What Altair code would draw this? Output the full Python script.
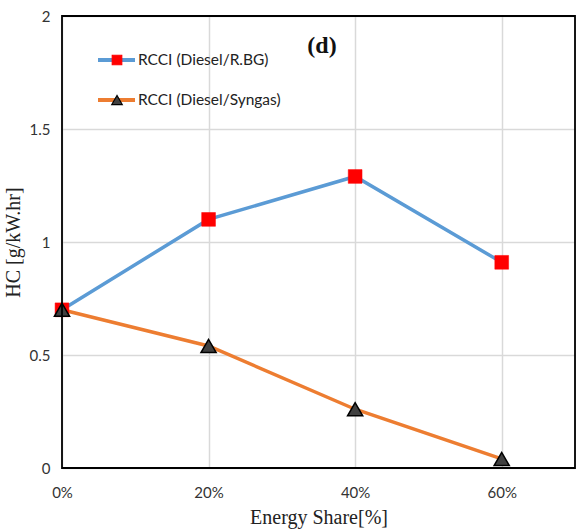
import altair as alt
import pandas as pd

# Energy share of the secondary fuel and HC emissions for both RCCI modes
energy_share = [0.0, 0.2, 0.4, 0.6]
hc_rbg = [0.70, 1.10, 1.29, 0.91]
hc_syngas = [0.70, 0.54, 0.26, 0.04]

series_rbg = "RCCI (Diesel/R.BG)"
series_syngas = "RCCI (Diesel/Syngas)"

df_rbg = pd.DataFrame({"share": energy_share, "hc": hc_rbg})
df_syn = pd.DataFrame({"share": energy_share, "hc": hc_syngas})

BLUE = "#5B9BD5"
ORANGE = "#ED7D31"
RED = "#FF0000"
TRI = "#404040"
LABEL_FONT = "Lato"
TITLE_FONT = "Liberation Serif"
W, H = 513, 452

x_enc = alt.X(
    "share:Q",
    scale=alt.Scale(domain=[0, 0.7], nice=False, zero=False),
    axis=alt.Axis(
        values=[0, 0.2, 0.4, 0.6],
        format=".0%",
        title="Energy Share[%]",
        titleFont=TITLE_FONT,
        titleFontSize=20,
        titleFontWeight="normal",
        titleColor="#222",
        titlePadding=7,
        labelFont=LABEL_FONT,
        labelFontSize=15,
        labelColor="#333",
        labelPadding=17,
        labelFlush=False,
        ticks=False,
        domain=False,
        gridColor="#d9d9d9",
        gridWidth=1.5,
    ),
)
y_enc = alt.Y(
    "hc:Q",
    scale=alt.Scale(domain=[0, 2], nice=False),
    axis=alt.Axis(
        values=[0, 0.5, 1, 1.5, 2],
        labelExpr="'' + datum.value",
        title="HC [g/kW.hr]",
        titleFont=TITLE_FONT,
        titleFontSize=20,
        titleFontWeight="normal",
        titleColor="#222",
        titlePadding=6,
        labelFont=LABEL_FONT,
        labelFontSize=15,
        labelColor="#333",
        labelPadding=12,
        labelFlush=False,
        ticks=False,
        domain=False,
        gridColor="#d9d9d9",
        gridWidth=1.5,
    ),
)

line_rbg = alt.Chart(df_rbg).mark_line(color=BLUE, strokeWidth=3.5).encode(x=x_enc, y=y_enc)
line_syn = alt.Chart(df_syn).mark_line(color=ORANGE, strokeWidth=3.5).encode(x="share:Q", y="hc:Q")
pts_rbg = alt.Chart(df_rbg).mark_point(
    shape="square", filled=True, fill=RED, stroke=RED, strokeWidth=0.5, size=190, opacity=1
).encode(x="share:Q", y="hc:Q")
pts_syn = alt.Chart(df_syn).mark_point(
    shape="triangle-up", filled=True, fill=TRI, stroke="black", strokeWidth=1.5, size=230, opacity=1
).encode(x="share:Q", y="hc:Q")

one = pd.DataFrame({"k": [0]})

# Plot-area frame drawn above the gridlines
frame = alt.Chart(one).mark_rect(fill=None, stroke="black", strokeWidth=1.8).encode(
    x=alt.value(0), x2=alt.value(W), y=alt.value(0), y2=alt.value(H)
)


# In-plot legend and panel tag
def legend_row(y, color, shape, fill, stroke, size, text):
    ln = alt.Chart(one).mark_rule(color=color, strokeWidth=4).encode(
        x=alt.value(36), x2=alt.value(73), y=alt.value(y)
    )
    mk = alt.Chart(one).mark_point(
        shape=shape, filled=True, fill=fill, stroke=stroke, strokeWidth=1.2, size=size, opacity=1
    ).encode(x=alt.value(55), y=alt.value(y))
    tx = alt.Chart(one).mark_text(
        text=text, align="left", baseline="middle", font=LABEL_FONT, fontSize=15.5, color="#222"
    ).encode(x=alt.value(76), y=alt.value(y))
    return [ln, mk, tx]


leg = legend_row(44, BLUE, "square", RED, RED, 90, series_rbg) + legend_row(
    84, ORANGE, "triangle-up", TRI, "black", 110, series_syngas
)

tag = alt.Chart(one).mark_text(
    text="(d)", font=TITLE_FONT, fontSize=24, fontWeight="bold", color="#111",
    align="center", baseline="middle"
).encode(x=alt.value(260), y=alt.value(30))

chart = alt.layer(line_rbg, line_syn, pts_rbg, pts_syn, frame, *leg, tag).properties(
    width=W, height=H,
    autosize=alt.AutoSizeParams(type="none"),
    padding={"left": 62, "top": 16, "right": 1, "bottom": 61},
).configure_view(stroke=None).configure(background="white")

chart.save("out.html", embed_options={"renderer": "svg", "actions": False})
